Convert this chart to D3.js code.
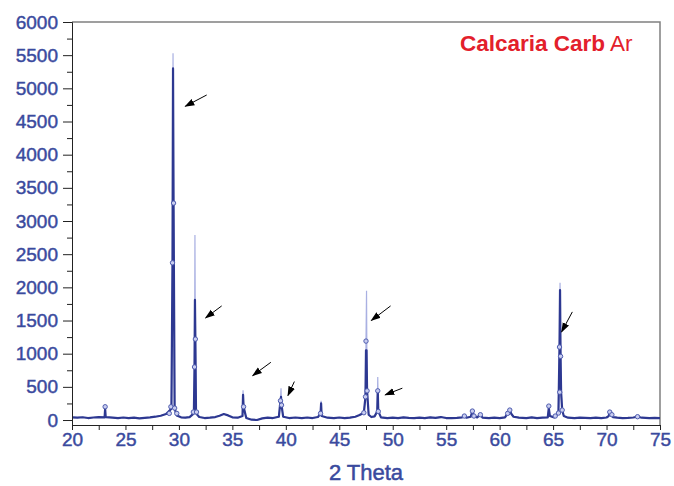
<!DOCTYPE html>
<html>
<head>
<meta charset="utf-8">
<script src="https://cdn.jsdelivr.net/npm/d3@7"></script>
<style>
  body { margin: 0; background: #fff; }
  .axis text { font-family: "Liberation Sans", Arial, sans-serif; font-size: 19px; fill: #3a4a9e; stroke: #3a4a9e; stroke-width: 0.45px; }
  .axis path, .axis line { stroke: #222; }
</style>
</head>
<body>
<div class="chart"></div>
<script>
// 2 theta positions (deg)
var angles = [
  20.0, 20.5, 21.0, 21.5, 22.0, 22.5, 23.05, 23.1, 23.15, 23.8,
  24.3, 24.8, 25.3, 25.8, 26.3, 26.8, 27.3, 27.8, 28.3, 28.8,
  29.3, 29.4, 29.45, 29.5, 29.6, 29.8, 30.2, 30.6, 31.0, 31.4,
  31.46, 31.5, 31.54, 31.6, 31.9, 32.4, 32.9, 33.4, 33.8, 34.2,
  34.6, 35.0, 35.5, 35.95, 36.0, 36.05, 36.3, 36.8, 37.3, 37.8,
  38.3, 38.8, 39.35, 39.5, 39.55, 39.6, 39.75, 40.3, 40.9, 41.5,
  42.0, 42.5, 43.0, 43.25, 43.3, 43.35, 43.9, 44.5, 45.0, 45.5,
  46.0, 46.5, 46.9, 47.3, 47.45, 47.5, 47.55, 47.6, 47.75, 48.0,
  48.3, 48.55, 48.6, 48.65, 48.9, 49.5, 50.0, 50.5, 51.0, 51.5,
  52.0, 52.5, 53.0, 53.5, 54.0, 54.5, 55.0, 55.5, 56.0, 56.5,
  56.7, 56.9, 57.3, 57.45, 57.6, 57.9, 58.2, 58.4, 59.0, 59.5,
  60.0, 60.5, 60.75, 60.95, 61.1, 61.3, 61.8, 62.5, 63.0, 63.5,
  64.0, 64.5, 64.6, 64.7, 65.1, 65.5, 65.6, 65.65, 65.7, 65.75,
  65.85, 66.0, 66.4, 67.0, 67.5, 68.0, 68.5, 69.0, 69.5, 70.0,
  70.2, 70.3, 70.45, 70.6, 71.0, 71.5, 72.0, 72.5, 72.9, 73.3,
  74.0, 74.5, 75.0
];

// measured counts (light trace)
var rawCounts = [
  40, 35, 42, 30, 38, 45, 40, 200, 45, 35,
  28, 38, 30, 36, 25, 33, 40, 50, 65, 90,
  180, 2370, 5530, 3270, 190, 70, 40, 35, 45, 110,
  800, 2790, 1220, 110, 45, 30, 35, 45, 65, 90,
  70, 40, 35, 60, 450, 200, 30, 5, 0, 25,
  35, 30, 50, 290, 480, 225, 50, 30, 38, 30,
  38, 30, 45, 100, 290, 60, 35, 30, 38, 30,
  35, 50, 75, 110, 350, 1190, 1950, 440, 80, 45,
  55, 130, 650, 130, 40, 30, 35, 30, 40, 32,
  28, 35, 30, 40, 32, 45, 30, 28, 33, 40,
  60, 35, 50, 135, 60, 40, 80, 35, 30, 35,
  30, 40, 100, 150, 90, 50, 35, 30, 40, 30,
  35, 40, 210, 60, 40, 105, 1100, 2070, 960, 420,
  150, 60, 35, 30, 35, 32, 30, 35, 30, 38,
  60, 120, 80, 45, 35, 30, 32, 38, 50, 35,
  30, 33, 30
];

// smoothed counts (dark trace)
var fitCounts = [
  40, 35, 42, 30, 38, 45, 40, 170, 45, 35,
  28, 38, 30, 36, 25, 33, 40, 50, 65, 90,
  170, 2370, 5300, 3270, 170, 70, 40, 35, 45, 100,
  800, 1810, 1220, 100, 45, 30, 35, 45, 65, 90,
  70, 40, 35, 60, 380, 200, 30, 5, 0, 25,
  35, 30, 50, 290, 350, 225, 50, 30, 38, 30,
  38, 30, 45, 100, 250, 60, 35, 30, 38, 30,
  35, 50, 75, 110, 350, 1050, 1050, 440, 80, 45,
  55, 130, 440, 130, 40, 30, 35, 30, 40, 32,
  28, 35, 30, 40, 32, 45, 30, 28, 33, 40,
  60, 35, 50, 135, 60, 40, 80, 35, 30, 35,
  30, 40, 100, 150, 90, 50, 35, 30, 40, 30,
  35, 40, 180, 60, 40, 105, 1100, 1960, 960, 420,
  150, 60, 35, 30, 35, 32, 30, 35, 30, 38,
  60, 120, 80, 45, 35, 30, 32, 38, 50, 35,
  30, 33, 30
];

// open circle symbols
var markAngles = [23.1, 29.1, 29.25, 29.4, 29.5, 29.6, 29.8, 31.35, 31.46, 31.54,
  31.65, 36.05, 39.5, 39.6, 43.25, 47.3, 47.45, 47.5, 47.6, 48.6,
  48.65, 56.7, 57.45, 57.6, 58.2, 60.75, 60.95, 64.6, 65.2, 65.5,
  65.6, 65.62, 65.7, 65.85, 70.3, 70.5, 72.9];
var markCounts = [200, 100, 200, 2370, 3270, 180, 100, 120, 800, 1220,
  120, 200, 290, 225, 100, 110, 350, 1190, 440, 440,
  130, 60, 135, 60, 80, 100, 150, 210, 60, 105,
  1100, 420, 960, 150, 120, 80, 50];

// arrows: [from angle, from counts, to angle, to counts]
var arrows = [
  [32.6, 4900, 30.6, 4730],
  [34.0, 1720, 32.5, 1540],
  [38.6, 870, 36.9, 670],
  [40.8, 580, 40.2, 370],
  [49.8, 1720, 48.0, 1500],
  [50.9, 480, 49.3, 380],
  [66.8, 1630, 65.8, 1330]
];

var xTicks = [20, 25, 30, 35, 40, 45, 50, 55, 60, 65, 70, 75];
var xMinor = [22.5, 27.5, 32.5, 37.5, 42.5, 47.5, 52.5, 57.5, 62.5, 67.5, 72.5];
var yTicks = [0, 500, 1000, 1500, 2000, 2500, 3000, 3500, 4000, 4500, 5000, 5500, 6000];
var yMinor = [250, 750, 1250, 1750, 2250, 2750, 3250, 3750, 4250, 4750, 5250, 5750];

var margin = {top: 22, right: 14, bottom: 61, left: 72},
    width = 674 - margin.left - margin.right,
    height = 486 - margin.top - margin.bottom;

var x = d3.scaleLinear().domain([20, 75]).range([0, width]);
var y = d3.scaleLinear().domain([-75, 6000]).range([height, 0]);

var svg = d3.select(".chart").append("svg")
    .attr("width", 674)
    .attr("height", 486);

var g = svg.append("g")
    .attr("transform", "translate(" + margin.left + "," + margin.top + ")");

// arrow head
svg.append("defs").append("marker")
    .attr("id", "head")
    .attr("markerUnits", "userSpaceOnUse")
    .attr("viewBox", "0 -4 10 8")
    .attr("refX", 9).attr("refY", 0)
    .attr("markerWidth", 10).attr("markerHeight", 8)
    .attr("orient", "auto")
    .append("path")
    .attr("d", "M0,-3.5L10,0L0,3.5Z")
    .attr("fill", "#000");

// frame top/right
g.append("path")
    .attr("d", "M0,0H" + width + "V" + height)
    .attr("fill", "none")
    .attr("stroke", "#808080")
    .attr("stroke-width", 1.5);

var pts = angles.map(function(a, i) { return {a: a, raw: rawCounts[i], fit: fitCounts[i]}; });

var rawLine = d3.line()
    .x(function(d) { return x(d.a); })
    .y(function(d) { return y(d.raw); });

var fitLine = d3.line()
    .x(function(d) { return x(d.a); })
    .y(function(d) { return y(d.fit); });

g.append("path")
    .datum(pts)
    .attr("d", rawLine)
    .attr("fill", "none")
    .attr("stroke", "#a9b0e2")
    .attr("stroke-width", 1.2);

g.append("path")
    .datum(pts)
    .attr("d", fitLine)
    .attr("fill", "none")
    .attr("stroke", "#2d3891")
    .attr("stroke-width", 2.2)
    .attr("stroke-linejoin", "round");

g.selectAll(".dot")
    .data(markAngles)
    .enter().append("circle")
    .attr("class", "dot")
    .attr("cx", function(d) { return x(d); })
    .attr("cy", function(d, i) { return y(markCounts[i]); })
    .attr("r", 2.2)
    .attr("fill", "#c9cdf0")
    .attr("stroke", "#4e5cae")
    .attr("stroke-width", 1);

g.selectAll(".arrow")
    .data(arrows)
    .enter().append("line")
    .attr("class", "arrow")
    .attr("x1", function(d) { return x(d[0]); })
    .attr("y1", function(d) { return y(d[1]); })
    .attr("x2", function(d) { return x(d[2]); })
    .attr("y2", function(d) { return y(d[3]); })
    .attr("stroke", "#000")
    .attr("stroke-width", 1)
    .attr("marker-end", "url(#head)");

// axes
g.append("g")
    .attr("class", "axis")
    .attr("transform", "translate(0," + height + ")")
    .call(d3.axisBottom(x).tickValues(xMinor).tickSize(5).tickSizeOuter(0).tickFormat(""));

g.append("g")
    .attr("class", "axis")
    .attr("transform", "translate(0," + height + ")")
    .call(d3.axisBottom(x).tickValues(xTicks).tickSize(5).tickSizeOuter(0).tickPadding(3).tickFormat(d3.format("d")));

g.append("g")
    .attr("class", "axis")
    .call(d3.axisLeft(y).tickValues(yMinor).tickSize(5).tickSizeOuter(0).tickFormat(""));

var yAxis = g.append("g")
    .attr("class", "axis")
    .call(d3.axisLeft(y).tickValues(yTicks).tickSize(9).tickSizeOuter(0).tickPadding(5).tickFormat(d3.format("d")));
yAxis.selectAll(".tick line").attr("stroke", "#777");

// x label
svg.append("text")
    .attr("x", margin.left + width / 2)
    .attr("y", 480)
    .attr("text-anchor", "middle")
    .style("font-family", "Liberation Sans, Arial, sans-serif")
    .style("font-size", "22px")
    .attr("fill", "#3a4a9e")
    .attr("stroke", "#3a4a9e")
    .attr("stroke-width", 0.5)
    .text("2 Theta");

// sample name
var title = svg.append("text")
    .attr("x", 460)
    .attr("y", 51)
    .style("font-family", "Liberation Sans, Arial, sans-serif")
    .style("font-size", "22.5px")
    .attr("fill", "#e3202b");
title.append("tspan").style("font-weight", "bold").text("Calcaria Carb");
title.append("tspan").text(" Ar");
</script>
</body>
</html>
